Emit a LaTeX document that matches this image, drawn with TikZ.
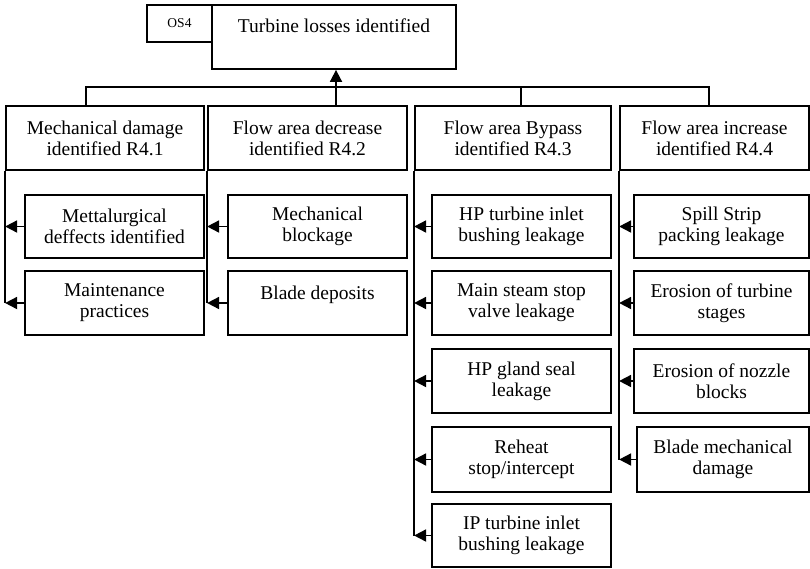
\documentclass[tikz,border=0pt]{standalone}
\usepackage{fontspec}
\setmainfont{Liberation Serif}
\usetikzlibrary{arrows.meta}
\begin{document}
\begin{tikzpicture}[x=1pt,y=-1pt,
  line width=1.8pt,
  box/.style={draw,line width=1.8pt,align=center,inner sep=0pt,
    font=\fontsize{19.5}{21}\selectfont},
  tag/.style={box,font=\fontsize{13.5}{15}\selectfont},
  link/.style={line width=1.8pt},
  arr/.style={line width=1.8pt,-{Triangle[length=12pt,width=12pt]}}]
% box with corners (x1,y1) and (x2,y2)
\newcommand\bx[7][box]{\node[#1,minimum width={#5-#3},minimum height={#6-#4}] (#2) at ({(#3+#5)/2},{(#4+#6)/2}) {#7};}
\useasboundingbox (0,0) rectangle (810,568);

% top goal
\bx[tag]{os}{147}{5}{212}{42}{OS4}
\bx{top}{212}{5}{456}{69}{Turbine losses identified\\[2pt]\mbox{}}

% requirement boxes
\bx{b1}{6}{106}{204}{170}{Mechanical damage\\identified R4.1}
\bx{b2}{208}{106}{407}{170}{Flow area decrease\\identified R4.2}
\bx{b3}{415}{106}{611}{170}{Flow area Bypass\\identified R4.3}
\bx{b4}{620}{106}{809}{170}{Flow area increase\\identified R4.4}

% column 1
\bx{c11}{25}{195}{204}{258}{Mettalurgical\\deffects identified}
\bx{c12}{25}{271}{204}{335}{Maintenance\\practices}
% column 2
\bx{c21}{228}{195}{407}{258}{Mechanical\\blockage}
\bx{c22}{228}{271}{407}{335}{Blade deposits\\\mbox{}}
% column 3
\bx{c31}{432}{195}{611}{258}{HP turbine inlet\\bushing leakage}
\bx{c32}{432}{271}{611}{335}{Main steam stop\\valve leakage}
\bx{c33}{432}{349}{611}{413}{HP gland seal\\leakage}
\bx{c34}{432}{427}{611}{492}{Reheat\\stop/intercept}
\bx{c35}{432}{504}{611}{567}{IP turbine inlet\\bushing leakage}
% column 4
\bx{c41}{634}{195}{809}{258}{Spill Strip\\packing leakage}
\bx{c42}{634}{271}{809}{335}{Erosion of turbine\\stages}
\bx{c43}{634}{349}{809}{413}{Erosion of nozzle\\blocks}
\bx{c44}{637}{427}{809}{492}{Blade mechanical\\damage}

% bus joining the requirement boxes to the goal
\coordinate (bus) at (336,87);
\coordinate (d1) at (86,106);
\coordinate (d2) at (336,106);
\coordinate (d3) at (521,106);
\coordinate (d4) at (709,106);
\draw[link] (d1) -- (d1 |- bus) -- (d4 |- bus) -- (d4);
\draw[link] (d2) -- (bus);
\draw[link] (d3) -- (d3 |- bus);
\draw[arr] (bus) -- (top.south -| bus);

% spines down the left side of each column
\draw[link] (b1.south west) -- (b1.south west |- c12.west);
\draw[link] (b2.south west) -- (b2.south west |- c22.west);
\draw[link] (b3.south west) -- (b3.south west |- c35.west);
\draw[link] (b4.south west) -- (b4.south west |- c44.west);

% child arrows into the spines
\foreach \c in {c11,c12} \draw[arr] (\c.west) -- (\c.west -| b1.west);
\foreach \c in {c21,c22} \draw[arr] (\c.west) -- (\c.west -| b2.west);
\foreach \c in {c31,c32,c33,c34,c35} \draw[arr] (\c.west) -- (\c.west -| b3.west);
\foreach \c in {c41,c42,c43,c44} \draw[arr] (\c.west) -- (\c.west -| b4.west);
\end{tikzpicture}
\end{document}
